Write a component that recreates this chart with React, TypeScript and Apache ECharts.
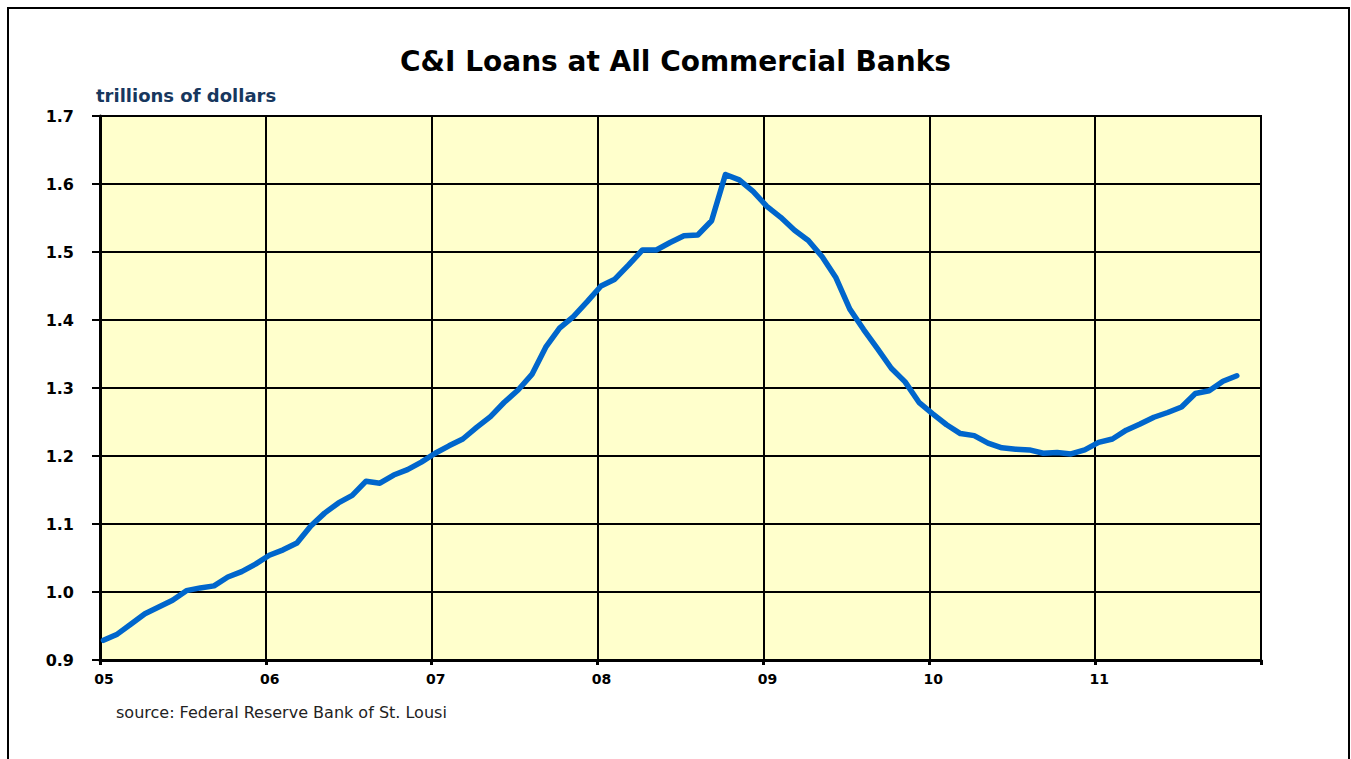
import React, { useEffect, useRef } from "react";
import * as echarts from "echarts";

// Commercial and industrial loans, monthly, trillions of dollars (Jan 2005 – Nov 2011)
const startYear = 2005;
const endYear = 2012;
const loans: number[] = [
  0.929, 0.938, 0.953, 0.968, 0.978, 0.988, 1.002, 1.006, 1.009, 1.022, 1.030, 1.041,
  1.054, 1.062, 1.072, 1.097, 1.116, 1.131, 1.142, 1.163, 1.160, 1.172, 1.180, 1.191,
  1.204, 1.215, 1.225, 1.242, 1.258, 1.279, 1.297, 1.320, 1.360, 1.388, 1.405, 1.427,
  1.450, 1.460, 1.481, 1.503, 1.503, 1.514, 1.524, 1.525, 1.546, 1.614, 1.606, 1.589,
  1.567, 1.551, 1.532, 1.517, 1.493, 1.462, 1.416, 1.386, 1.358, 1.329, 1.309, 1.279,
  1.262, 1.246, 1.233, 1.230, 1.219, 1.212, 1.210, 1.209, 1.204, 1.205, 1.203, 1.209,
  1.220, 1.225, 1.238, 1.247, 1.257, 1.264, 1.272, 1.292, 1.296, 1.310, 1.318,
];
const yearLabels: string[] = ["05", "06", "07", "08", "09", "10", "11", ""];

const titleText = "C&I Loans at All Commercial Banks";
const unitText = "trillions of dollars";
const sourceText = "source: Federal Reserve Bank of St. Lousi";

export default function App() {
  const ref = useRef<HTMLDivElement>(null);

  useEffect(() => {
    if (!ref.current) return;
    const chart = echarts.init(ref.current, null, { renderer: "svg" });

    // each observation sits a quarter month into its month
    const points = loans.map((v, i) => [startYear + (i + 0.25) / 12, v]);

    chart.setOption({
      animation: false,
      backgroundColor: "#ffffff",
      title: {
        text: titleText,
        left: "center",
        top: 42,
        textStyle: {
          fontFamily: "DejaVu Sans",
          fontWeight: "bold",
          fontSize: 28,
          color: "#000000",
        },
      },
      graphic: [
        {
          type: "rect",
          shape: { x: 8, y: 8, width: 1341, height: 800 },
          style: { fill: "none", stroke: "#000000", lineWidth: 2 },
          silent: true,
        },
        {
          type: "text",
          left: 116,
          top: 704,
          style: {
            text: sourceText,
            fontFamily: "DejaVu Sans",
            fontSize: 16,
            fill: "#222222",
          },
        },
      ],
      grid: {
        left: 100,
        top: 116,
        right: 90,
        bottom: 99,
        show: true,
        backgroundColor: "#FFFFCC",
        borderColor: "#000000",
        borderWidth: 2,
      },
      xAxis: {
        type: "value",
        min: startYear,
        max: endYear,
        interval: 1,
        axisLine: { show: true, lineStyle: { color: "#000000", width: 3 } },
        axisTick: { show: true, length: 5, lineStyle: { color: "#000000", width: 3 } },
        splitLine: { show: true, lineStyle: { color: "#000000", width: 2 } },
        axisLabel: {
          margin: 12,
          padding: [0, 0, 0, 8],
          fontFamily: "DejaVu Sans",
          fontWeight: "bold",
          fontSize: 14,
          color: "#000000",
          formatter: (v: number) => yearLabels[Math.round(v) - startYear] ?? "",
        },
      },
      yAxis: {
        type: "value",
        min: 0.9,
        max: 1.7,
        interval: 0.1,
        name: unitText,
        nameLocation: "end",
        nameGap: 12,
        nameTextStyle: {
          align: "left",
          verticalAlign: "bottom",
          padding: [0, 0, 0, -4],
          fontFamily: "DejaVu Sans",
          fontWeight: "bold",
          fontSize: 18,
          color: "#17375E",
        },
        axisLine: { show: true, lineStyle: { color: "#000000", width: 3 } },
        axisTick: { show: true, length: 8, lineStyle: { color: "#000000", width: 2 } },
        splitLine: { show: true, lineStyle: { color: "#000000", width: 2 } },
        axisLabel: {
          margin: 26,
          fontFamily: "DejaVu Sans",
          fontWeight: "bold",
          fontSize: 16,
          color: "#000000",
          formatter: (v: number) => v.toFixed(1),
        },
      },
      series: [
        {
          type: "line",
          data: points,
          showSymbol: false,
          symbol: "none",
          lineStyle: { color: "#0066CC", width: 5.5, cap: "round", join: "round" },
        },
      ],
    });

    return () => chart.dispose();
  }, []);

  return (
    <div
      ref={ref}
      style={{ position: "fixed", left: 0, top: 0, width: 1351, height: 759 }}
    />
  );
}
